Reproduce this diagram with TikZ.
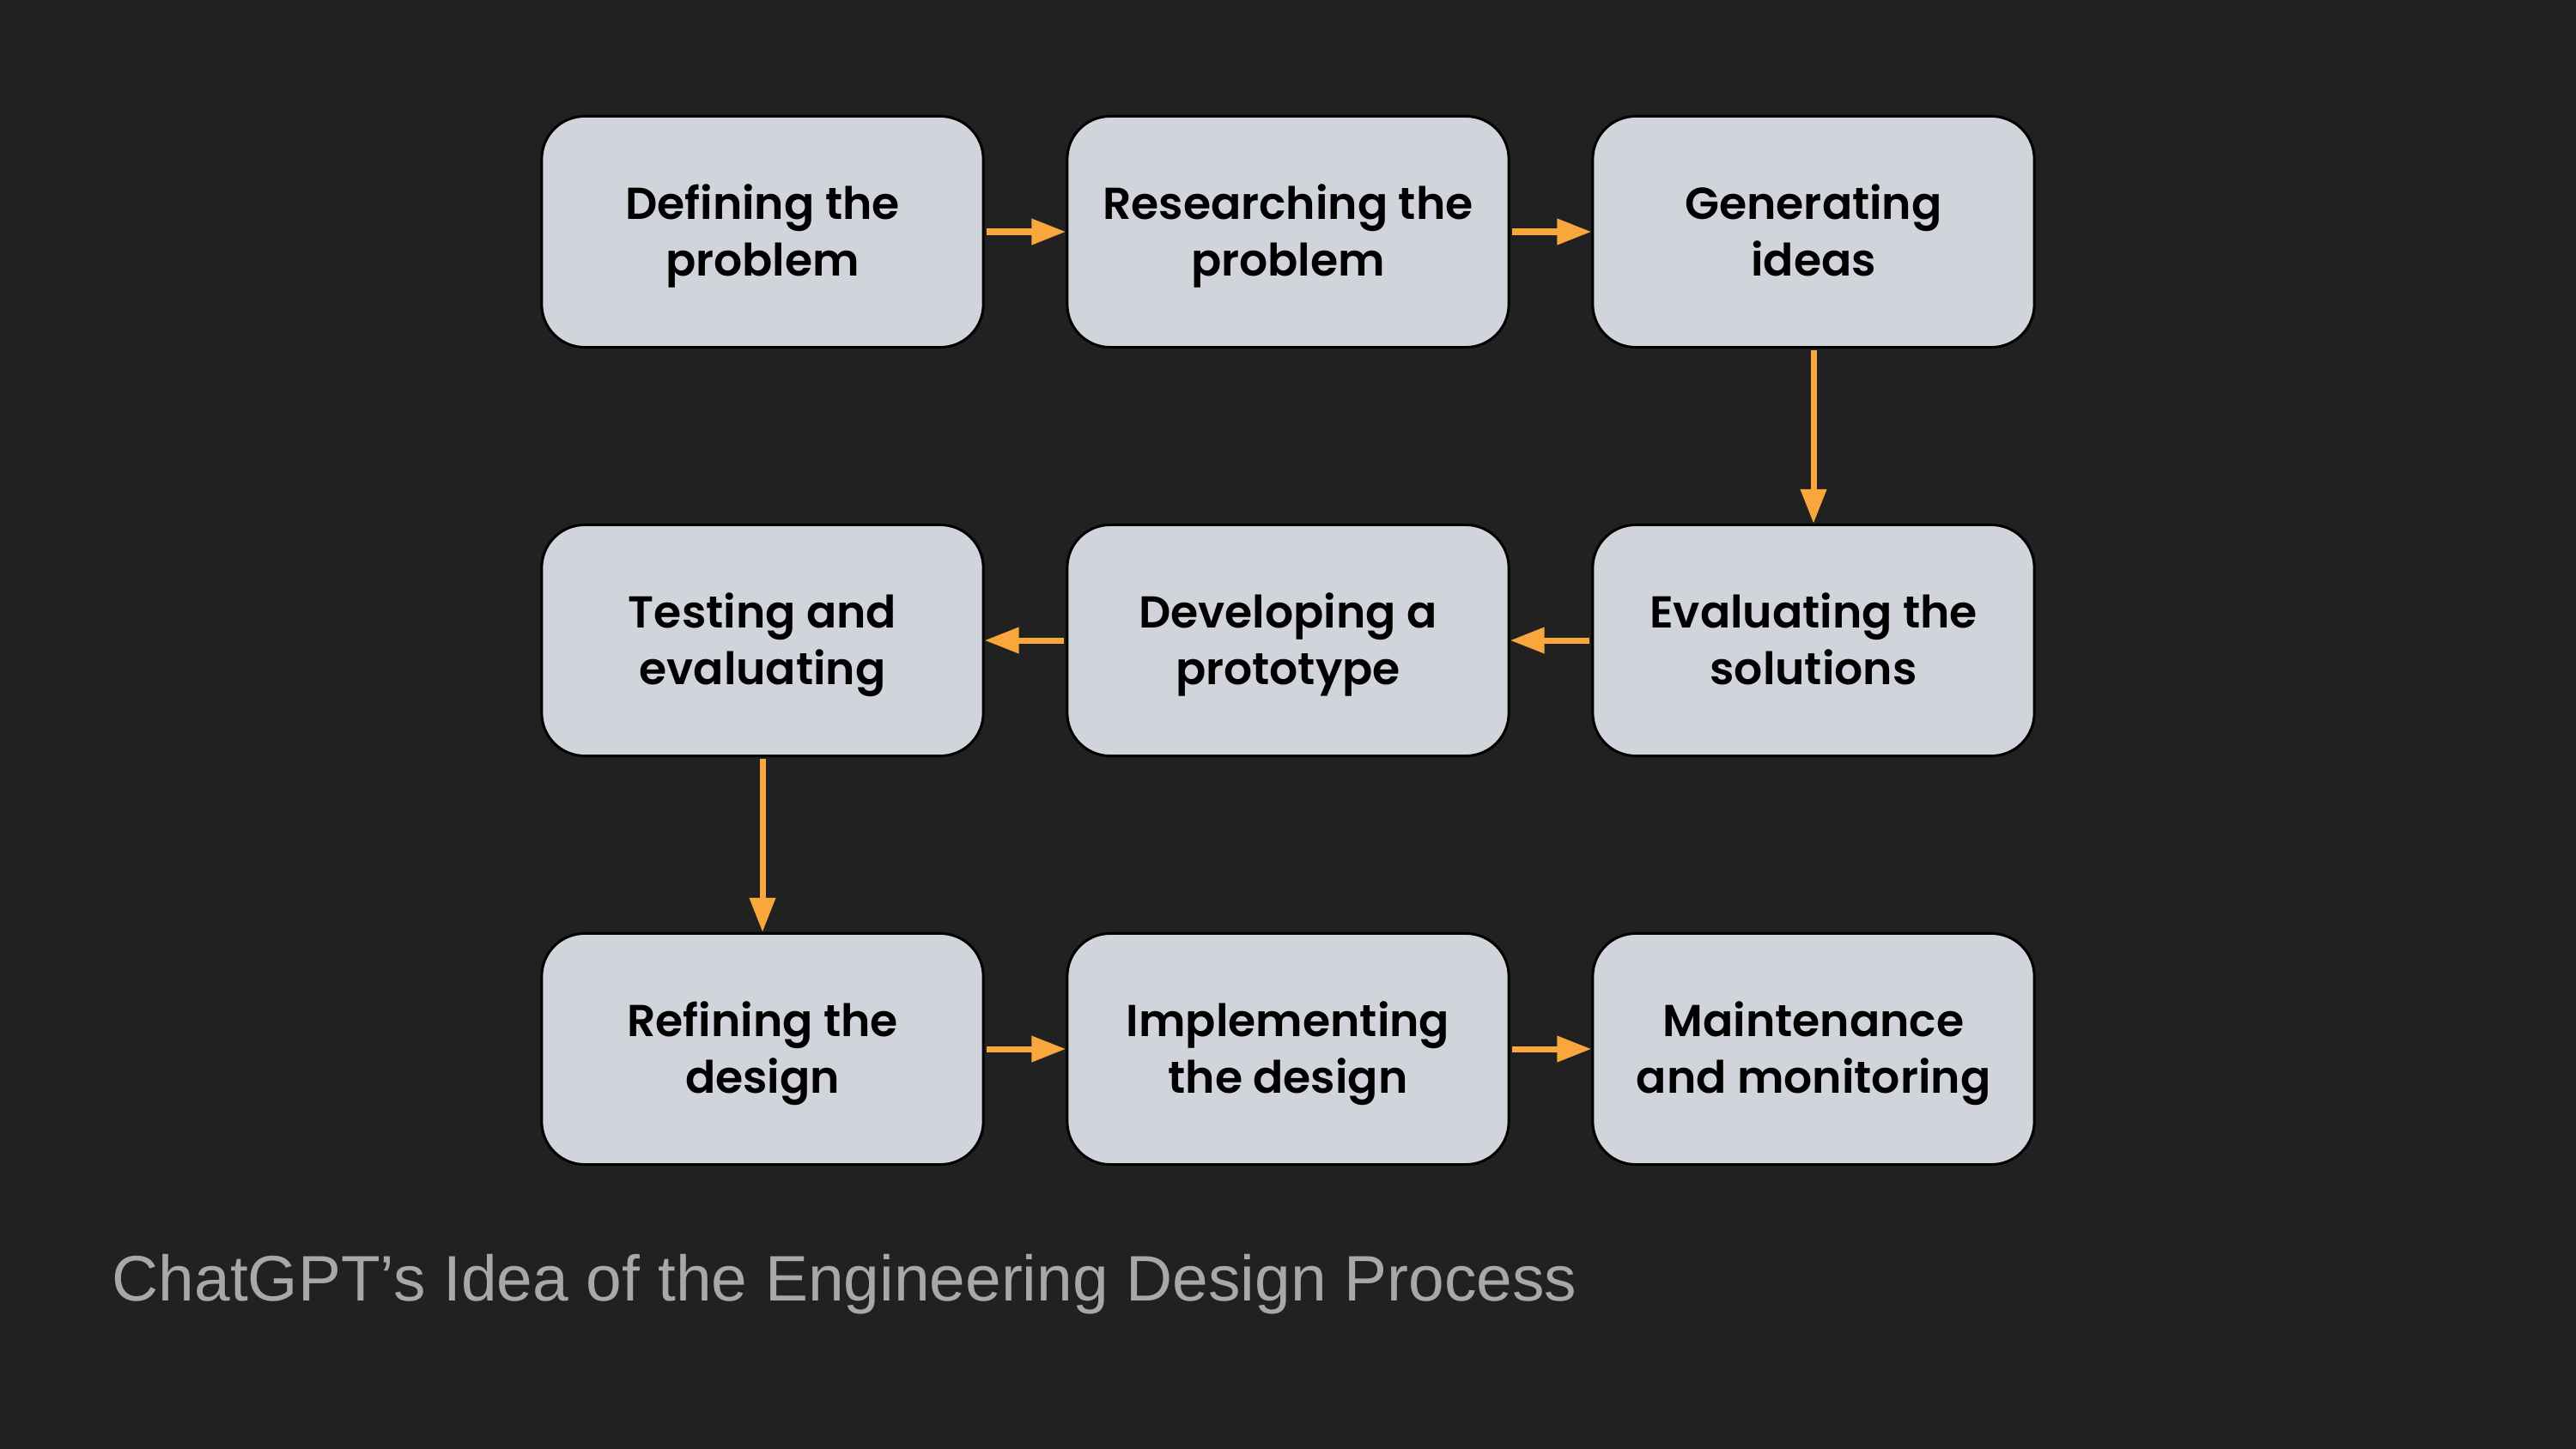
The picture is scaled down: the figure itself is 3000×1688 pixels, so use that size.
\documentclass[tikz,border=0pt]{standalone}
\usepackage{fontspec}
\setmainfont{Liberation Sans}
\newfontfamily\boxfont{Poppins}[UprightFont={* SemiBold}]
\usetikzlibrary{arrows.meta}
\definecolor{bg}{HTML}{212121}
\definecolor{boxfill}{HTML}{D1D5DB}
\definecolor{arr}{HTML}{F9A73C}
\definecolor{ttl}{HTML}{A8A8A8}
\newcommand\bl[1]{\rule{0pt}{0.37cm}\smash{#1}}
\tikzset{
  stage/.style={draw=black, line width=0.03cm, fill=boxfill, rounded corners=0.5cm,
    minimum width=5.14cm, minimum height=2.69cm, inner sep=0pt, align=center,
    font=\boxfont\fontsize{14.8pt}{18.8pt}\selectfont, text=black},
  flow/.style={draw=arr, line width=0.07cm, -{Triangle[length=0.4cm, width=0.29cm]}, shorten <=0.02cm}
}
\begin{document}
\begin{tikzpicture}[x=0.01cm, y=-0.01cm]
\fill[bg] (0,0) rectangle (3000,1688);
\useasboundingbox (0,0) rectangle (3000,1688);
\node[stage] (def) at (888,270) {\bl{Defining the}\\\bl{problem}};
\node[stage] (res) at (1500,270) {\bl{Researching the}\\\bl{problem}};
\node[stage] (gen) at (2112,270) {\bl{Generating}\\\bl{ideas}};
\node[stage] (tes) at (888,746) {\bl{Testing and}\\\bl{evaluating}};
\node[stage] (dev) at (1500,746) {\bl{Developing a}\\\bl{prototype}};
\node[stage] (eva) at (2112,746) {\bl{Evaluating the}\\\bl{solutions}};
\node[stage] (ref) at (888,1222) {\bl{Refining the}\\\bl{design}};
\node[stage] (imp) at (1500,1222) {\bl{Implementing}\\\bl{the design}};
\node[stage] (mai) at (2112,1222) {\bl{Maintenance}\\\bl{and monitoring}};
\draw[flow] (def) -- (res);
\draw[flow] (res) -- (gen);
\draw[flow] (gen) -- (eva);
\draw[flow] (eva) -- (dev);
\draw[flow] (dev) -- (tes);
\draw[flow] (tes) -- (ref);
\draw[flow] (ref) -- (imp);
\draw[flow] (imp) -- (mai);
\node[anchor=base west, inner sep=0pt, text=ttl, font=\fontsize{21.3pt}{25pt}\selectfont] (title) at (130,1515) {ChatGPT’s Idea of the Engineering Design Process};
\end{tikzpicture}
\end{document}
